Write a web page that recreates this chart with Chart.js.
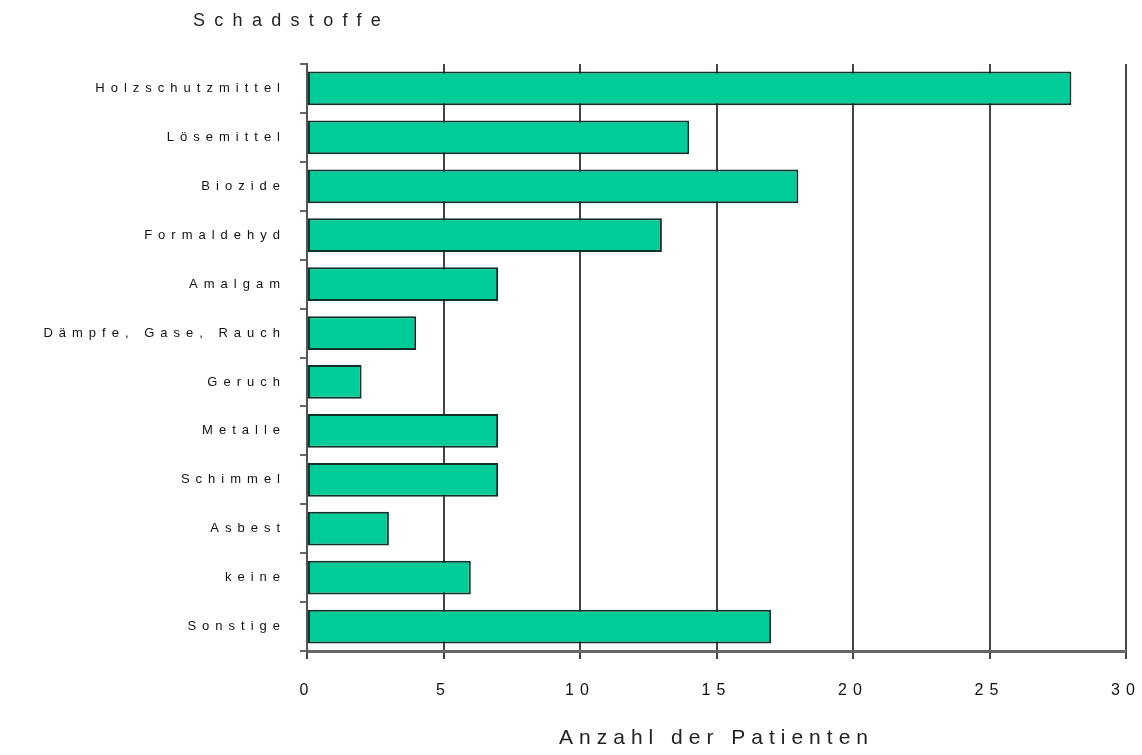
<!DOCTYPE html>
<html>
<head>
<meta charset="utf-8">
<script src="https://cdn.jsdelivr.net/npm/chart.js@4/dist/chart.umd.min.js"></script>
<style>
  html, body { margin: 0; padding: 0; background: #fff; }
  #wrap { position: relative; width: 1142px; height: 755px; }
  #title {
    position: absolute; left: 193px; top: 10px;
    font: 18px 'Liberation Sans', Arial, sans-serif;
    letter-spacing: 9.3px; color: #222;
  }
</style>
</head>
<body>
<div id="wrap">
  <div id="title">Schadstoffe</div>
  <canvas id="chart" width="1142" height="755"></canvas>
</div>
<script>
const categories = ['Holzschutzmittel', 'Lösemittel', 'Biozide', 'Formaldehyd', 'Amalgam',
  'Dämpfe, Gase, Rauch', 'Geruch', 'Metalle', 'Schimmel', 'Asbest', 'keine', 'Sonstige']
const patients = [28, 14, 18, 13, 7, 4, 2, 7, 7, 3, 6, 17]
const xTicks = [0, 5, 10, 15, 20, 25, 30]

// the old chart has wide letter spacing on every label
const spacing = {
  id: 'spacing',
  beforeUpdate: chart => { chart.ctx.letterSpacing = '6px' },
  beforeDraw: chart => { chart.ctx.letterSpacing = '6px' }
}

const canvas = document.querySelector('#chart')
const data = {
  labels: categories,
  datasets: [{
    data: patients,
    backgroundColor: '#00cc99',
    borderColor: '#0d3328',
    borderWidth: 2,
    borderSkipped: false,
    barPercentage: 0.69,
    categoryPercentage: 1
  }]
}

const options = {
  indexAxis: 'y',
  responsive: false,
  animation: false,
  layout: { padding: { top: 64, right: 0 } },
  plugins: { legend: { display: false }, tooltip: { enabled: false } },
  scales: {
    x: {
      min: 0,
      max: 30,
      afterBuildTicks: scale => { scale.ticks = xTicks.map(v => ({ value: v })) },
      afterFit: scale => {
        scale.height = 104
        scale.paddingRight = 16
      },
      border: { color: '#666', width: 3 },
      grid: { color: '#444', lineWidth: 2, tickLength: 8 },
      ticks: {
        color: '#111',
        padding: 22,
        font: { family: 'Liberation Sans', size: 16 }
      },
      title: {
        display: true,
        text: 'Anzahl der Patienten',
        color: '#222',
        padding: { top: 14 },
        font: { family: 'Liberation Sans', size: 21 }
      }
    },
    y: {
      afterFit: scale => { scale.width = 307 },
      border: { color: '#555', width: 2 },
      grid: { drawOnChartArea: false, color: '#666', lineWidth: 2, tickLength: 7, offset: true },
      ticks: {
        color: '#111',
        padding: 14,
        font: { family: 'Liberation Sans', size: 13 }
      }
    }
  }
}

new Chart(canvas, { type: 'bar', data, options, plugins: [spacing] })
</script>
</body>
</html>
